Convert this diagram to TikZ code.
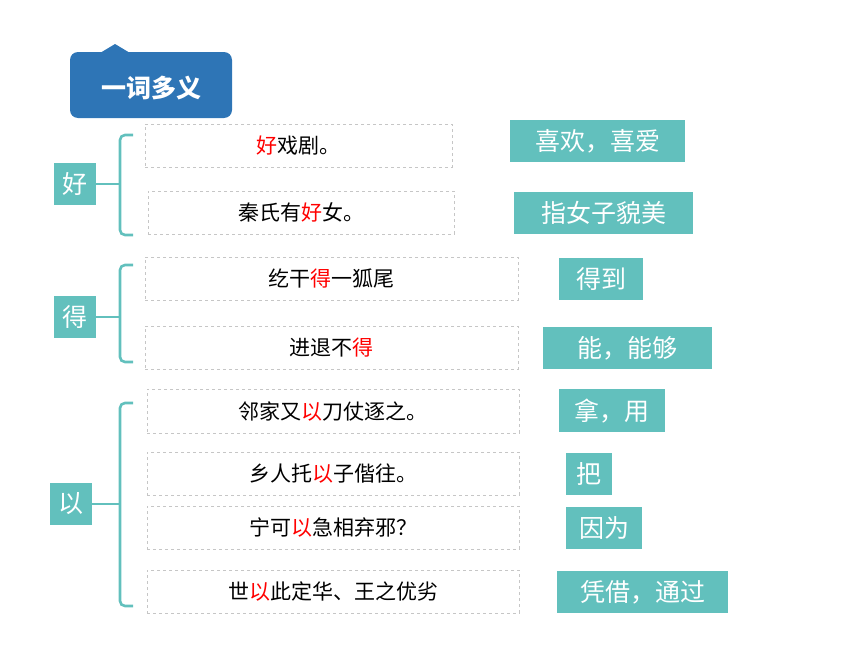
\documentclass[tikz,border=0pt]{standalone}
\usepackage{fontspec}
\setmainfont{Noto Sans CJK SC}
\newfontfamily\cjk{Noto Sans CJK SC}
\begin{document}
\begin{tikzpicture}[x=1pt,y=-1pt,
  teal/.style={fill=tealc,text=white,inner sep=0pt,font=\fontsize{25}{25}\selectfont},
  ex/.style={draw=gray!45,dashed,inner sep=0pt,font=\fontsize{21}{21}\selectfont},
  br/.style={draw=tealc,line width=2.6pt,rounded corners=5pt}]
\definecolor{tealc}{HTML}{62C0BD}
\definecolor{bluec}{HTML}{2E75B6}
\useasboundingbox (0,0) rectangle (860,645);
\newcommand\rd[1]{\textcolor{red}{#1}}
% title
\fill[bluec,rounded corners=8pt] (70,52) rectangle (232,118);
\fill[bluec] (100,53) -- (115,44) -- (130,53) -- cycle;
\node[text=white,font=\bfseries\fontsize{25}{25}\selectfont] (title) at (151,88) {一词多义};
% helpers
\newcommand\tbox[6]{\node[teal,minimum width=#4-#2,minimum height=#5-#3,anchor=north west] (#1) at (#2,#3) {#6};}
\newcommand\ebox[6]{\node[ex,minimum width=#4-#2,minimum height=#5-#3,anchor=north west] (#1) at (#2,#3) {#6};}
% 好
\node[teal,minimum width=42,minimum height=42] (h) at (75,184) {好};
\ebox{e1}{145}{124}{452}{167}{\rd{好}戏剧。}
\ebox{e2}{148}{191}{454}{234}{秦氏有\rd{好}女。}
\tbox{m1}{510}{120}{685}{162}{喜欢，喜爱}
\tbox{m2}{514}{192}{693}{234}{指女子貌美}
\draw[br] (133,135) -- (120,135) -- (120,235) -- (133,235);
\draw[br,rounded corners=0pt] (h.east) -- (120,184);
% 得
\node[teal,minimum width=42,minimum height=42] (d) at (75,317) {得};
\ebox{e3}{145}{257}{518}{300}{纥干\rd{得}一狐尾}
\ebox{e4}{145}{326}{518}{369}{进退不\rd{得}}
\tbox{m3}{559}{258}{643}{300}{得到}
\tbox{m4}{543}{327}{712}{369}{能，能够}
\draw[br] (133,265) -- (120,265) -- (120,362) -- (133,362);
\draw[br,rounded corners=0pt] (d.east) -- (120,317);
% 以
\node[teal,minimum width=42,minimum height=42] (y) at (71,504) {以};
\ebox{e5}{147}{389}{519}{433}{邻家又\rd{以}刀仗逐之。}
\ebox{e6}{147}{452}{519}{495}{乡人托\rd{以}子偕往。}
\ebox{e7}{147}{506}{519}{549}{宁可\rd{以}急相弃邪？}
\ebox{e8}{147}{570}{519}{613}{世\rd{以}此定华、王之优劣}
\tbox{m5}{559}{389}{665}{432}{拿，用}
\tbox{m6}{566}{453}{612}{495}{把}
\tbox{m7}{566}{507}{642}{549}{因为}
\tbox{m8}{557}{571}{728}{613}{凭借，通过}
\draw[br] (133,403) -- (120,403) -- (120,606) -- (133,606);
\draw[br,rounded corners=0pt] (y.east) -- (120,504);
\end{tikzpicture}
\end{document}
